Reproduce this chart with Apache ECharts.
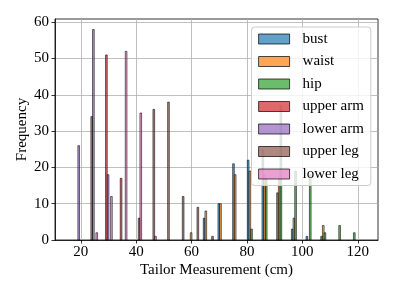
<!DOCTYPE html>
<html><head><meta charset="utf-8">
<script src="https://cdn.jsdelivr.net/npm/echarts@6/dist/echarts.min.js"></script>
<style>html,body{margin:0;padding:0;background:#fff}#c{width:395px;height:296px}</style>
</head><body><div id="c"></div>
<script>
// ---- data (histogram counts per bin, 20 bins) ----
const seriesNames = ['bust', 'waist', 'hip', 'upper arm', 'lower arm', 'upper leg', 'lower leg'];
const binStart = 16.0;
const binWidth = 5.3;
const bust     = [0, 0, 0, 0, 0, 0, 0, 0, 0, 6, 10, 21, 22, 25, 13, 3, 1, 1, 0, 0];
const waist    = [0, 0, 0, 0, 0, 0, 0, 0, 2, 8, 10, 18, 19, 18, 17, 6, 0, 4, 0, 0];
const hip      = [0, 0, 0, 0, 0, 0, 0, 0, 0, 0, 0, 0, 3, 17, 37, 19, 18, 2, 4, 2];
const upperArm = [0, 34, 51, 17, 0, 0, 0, 0, 0, 0, 0, 0, 0, 0, 0, 0, 0, 0, 0, 0];
const lowerArm = [26, 58, 18, 0, 0, 0, 0, 0, 0, 0, 0, 0, 0, 0, 0, 0, 0, 0, 0, 0];
const upperLeg = [0, 0, 0, 0, 6, 36, 38, 12, 9, 1, 0, 0, 0, 0, 0, 0, 0, 0, 0, 0];
const lowerLeg = [0, 2, 12, 52, 35, 1, 0, 0, 0, 0, 0, 0, 0, 0, 0, 0, 0, 0, 0, 0];
const xTicks = [20, 40, 60, 80, 100, 120];
const yTicks = [0, 10, 20, 30, 40, 50, 60];

const allCounts = [bust, waist, hip, upperArm, lowerArm, upperLeg, lowerLeg];
const colors = ['rgba(31,119,180,0.7)', 'rgba(255,127,14,0.7)', 'rgba(44,160,44,0.7)',
  'rgba(214,39,40,0.7)', 'rgba(148,103,189,0.7)', 'rgba(140,86,75,0.7)', 'rgba(227,119,194,0.7)'];
const edge = 'rgba(0,0,0,0.7)';
const nS = seriesNames.length;
const barW = binWidth * 0.8 / nS;

const series = seriesNames.map((name, k) => {
  const data = [];
  allCounts[k].forEach((c, i) => {
    if (c > 0) {
      const x0 = binStart + i * binWidth + binWidth * 0.1 + k * barW;
      data.push([x0, x0 + barW, c]);
    }
  });
  return {
    name: name,
    type: 'custom',
    itemStyle: { color: colors[k], borderColor: edge, borderWidth: 1 },
    encode: { x: [0, 1], y: 2 },
    data: data,
    renderItem: function (params, api) {
      const p0 = api.coord([api.value(0), api.value(2)]);
      const p1 = api.coord([api.value(1), 0]);
      return {
        type: 'rect',
        shape: { x: p0[0], y: p0[1], width: p1[0] - p0[0], height: p1[1] - p0[1] },
        style: { fill: colors[k], stroke: edge, lineWidth: 0.8 }
      };
    }
  };
});

const font = 'Liberation Serif';
const chart = echarts.init(document.getElementById('c'), null, { renderer: 'canvas' });
chart.setOption({
  animation: false,
  backgroundColor: '#fff',
  grid: { left: 55, right: 17, top: 19, bottom: 56, show: true, borderColor: '#000', borderWidth: 0.8, backgroundColor: 'transparent' },
  xAxis: {
    type: 'value', min: 10.7, max: 127.3,
    name: 'Tailor Measurement (cm)', nameLocation: 'middle', nameGap: 23, nameMoveOverlap: false,
    nameTextStyle: { fontFamily: font, fontSize: 15, color: '#000' },
    axisLine: { show: true, lineStyle: { color: '#000', width: 0.8 } },
    axisTick: { show: true, length: 3.5, customValues: xTicks, lineStyle: { color: '#000', width: 0.8 } },
    axisLabel: { customValues: xTicks, fontFamily: font, fontSize: 15, color: '#000', margin: 5 },
    splitLine: { show: true, lineStyle: { color: '#b0b0b0', width: 0.8 } }
  },
  yAxis: {
    type: 'value', min: 0, max: 60.9,
    name: 'Frequency', nameLocation: 'middle', nameGap: 25, nameMoveOverlap: false,
    nameTextStyle: { fontFamily: font, fontSize: 15, color: '#000' },
    axisLine: { show: true, lineStyle: { color: '#000', width: 0.8 } },
    axisTick: { show: true, length: 3.5, customValues: yTicks, lineStyle: { color: '#000', width: 0.8 } },
    axisLabel: { customValues: yTicks, fontFamily: font, fontSize: 15, color: '#000', margin: 6 },
    splitLine: { show: true, lineStyle: { color: '#b0b0b0', width: 0.8 } }
  },
  legend: {
    orient: 'vertical', left: 251.5, top: 27,
    padding: [4.5, 7, 4, 6.6],
    itemWidth: 31, itemHeight: 10, itemGap: 7.5,
    icon: 'rect',
    backgroundColor: 'rgba(255,255,255,0.8)', borderColor: '#cccccc', borderWidth: 1, borderRadius: 3,
    itemStyle: { borderColor: edge, borderWidth: 1 },
    textStyle: { fontFamily: font, fontSize: 15, color: '#000', lineHeight: 15, padding: [0, 0, 0, 8] },
    data: seriesNames
  },
  series: series
});
</script>
</body></html>
